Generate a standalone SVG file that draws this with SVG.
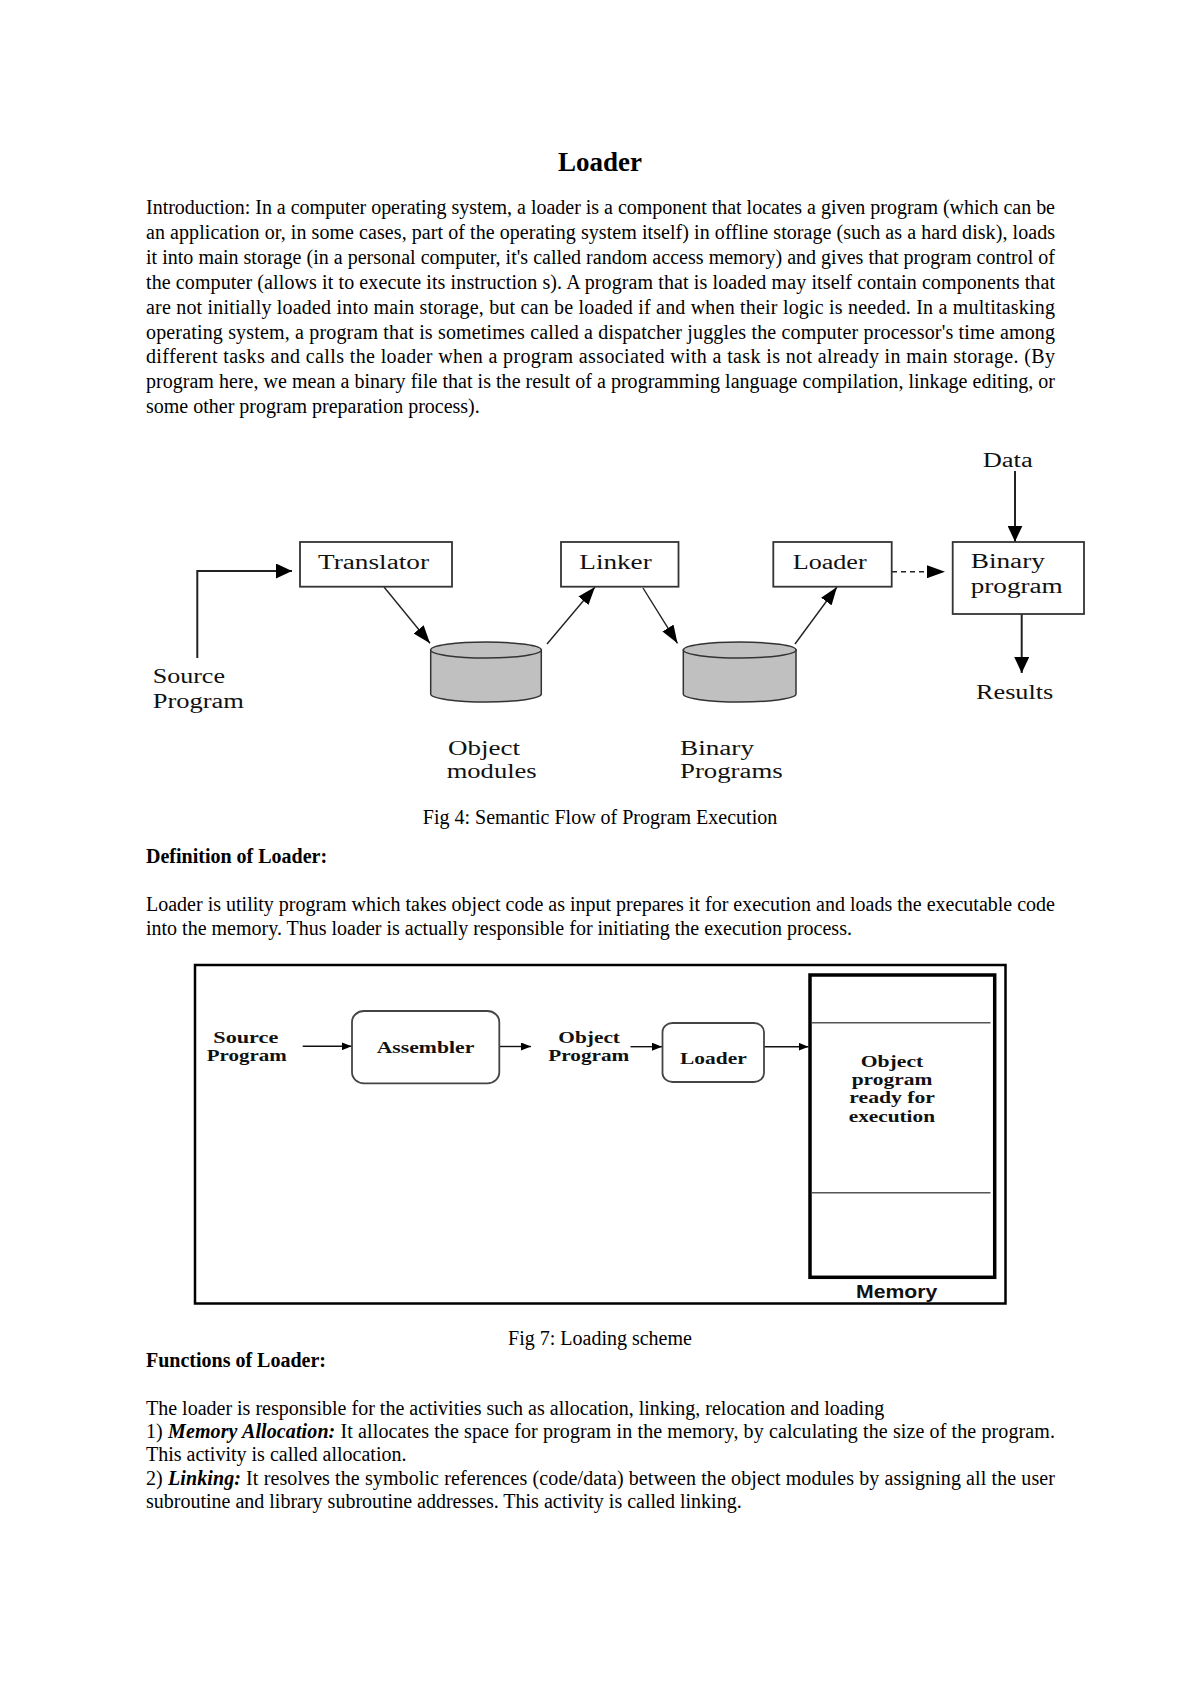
<svg xmlns="http://www.w3.org/2000/svg" width="1200" height="1697" viewBox="0 0 1200 1697">
<style>
.body{font-family:"Liberation Serif","Times New Roman",serif;font-size:20px;fill:#000}
.bold{font-weight:bold}
.title{font-family:"Liberation Serif","Times New Roman",serif;font-size:27px;font-weight:bold;fill:#000}
.f4{font-family:"Liberation Serif","Times New Roman",serif;font-size:20px;fill:#111}
.f7{font-family:"Liberation Serif","Times New Roman",serif;font-size:17.5px;font-weight:bold;fill:#111}
.mem{font-family:"Liberation Sans",Arial,sans-serif;font-size:18px;font-weight:bold;fill:#111}
.box4{fill:#fff;stroke:#333;stroke-width:1.8}
.cyl{fill:#c0c0c0;stroke:#333;stroke-width:1.5}
.c4{fill:none;stroke:#222;stroke-width:1.4}
.c4b{fill:none;stroke:#222;stroke-width:2}
.c7{fill:none;stroke:#111;stroke-width:1.4}
.box7{fill:#fff;stroke:#444;stroke-width:1.8}
</style>
<defs>
<marker id="ah4" markerUnits="userSpaceOnUse" markerWidth="18" markerHeight="13" refX="18" refY="6.5" orient="auto"><path d="M0,0 L18,6.5 L0,13 Z" fill="#000"/></marker>
<marker id="ah4b" markerUnits="userSpaceOnUse" markerWidth="16" markerHeight="15" refX="16" refY="7.5" orient="auto"><path d="M0,0 L16,7.5 L0,15 Z" fill="#000"/></marker>
<marker id="ah7" markerUnits="userSpaceOnUse" markerWidth="10" markerHeight="8" refX="10" refY="4" orient="auto"><path d="M0,0 L10,4 L0,8 Z" fill="#000"/></marker>
</defs>
<rect width="1200" height="1697" fill="#fff"/>

<text class="title" x="600" y="171" text-anchor="middle">Loader</text>

<g id="intro" class="body">
<text x="146" y="214" textLength="909" lengthAdjust="spacing">Introduction: In a computer operating system, a loader is a component that locates a given program (which can be</text>
<text x="146" y="239" textLength="909" lengthAdjust="spacing">an application or, in some cases, part of the operating system itself) in offline storage (such as a hard disk), loads</text>
<text x="146" y="264" textLength="909" lengthAdjust="spacing">it into main storage (in a personal computer, it's called random access memory) and gives that program control of</text>
<text x="146" y="288.7" textLength="909" lengthAdjust="spacing">the computer (allows it to execute its instruction s). A program that is loaded may itself contain components that</text>
<text x="146" y="313.6" textLength="909" lengthAdjust="spacing">are not initially loaded into main storage, but can be loaded if and when their logic is needed. In a multitasking</text>
<text x="146" y="338.5" textLength="909" lengthAdjust="spacing">operating system, a program that is sometimes called a dispatcher juggles the computer processor's time among</text>
<text x="146" y="363.4" textLength="909" lengthAdjust="spacing">different tasks and calls the loader when a program associated with a task is not already in main storage. (By</text>
<text x="146" y="388.3" textLength="909" lengthAdjust="spacing">program here, we mean a binary file that is the result of a programming language compilation, linkage editing, or</text>
<text x="146" y="413.2">some other program preparation process).</text>
</g>

<!-- Fig 4 -->
<g id="fig4-connectors">
<polyline class="c4b" points="197.3,658 197.3,571 292,571" marker-end="url(#ah4b)"/>
<line class="c4" x1="384" y1="587" x2="430" y2="643.3" marker-end="url(#ah4)"/>
<line class="c4" x1="547" y1="644" x2="595" y2="587" marker-end="url(#ah4)"/>
<line class="c4" x1="643" y1="588" x2="677.5" y2="643.3" marker-end="url(#ah4)"/>
<line class="c4" x1="795" y1="644" x2="837" y2="587" marker-end="url(#ah4)"/>
<line class="c4" x1="892" y1="571.7" x2="945" y2="571.7" stroke-dasharray="5,4" marker-end="url(#ah4)"/>
<line class="c4b" x1="1015" y1="471" x2="1015" y2="541.7" marker-end="url(#ah4b)"/>
<line class="c4b" x1="1021.7" y1="614" x2="1021.7" y2="673" marker-end="url(#ah4b)"/>
</g>
<g id="translator"><rect class="box4" x="300" y="542" width="152" height="44.7"/><text class="f4" x="318" y="569" textLength="111" lengthAdjust="spacingAndGlyphs">Translator</text></g>
<g id="linker"><rect class="box4" x="561" y="542" width="117.5" height="44.7"/><text class="f4" x="579.3" y="569" textLength="72.4" lengthAdjust="spacingAndGlyphs">Linker</text></g>
<g id="loader4"><rect class="box4" x="773.3" y="542" width="118.4" height="44.7"/><text class="f4" x="792.7" y="569" textLength="74" lengthAdjust="spacingAndGlyphs">Loader</text></g>
<g id="binary-program"><rect class="box4" x="952.7" y="542" width="131.3" height="72"/><text class="f4" x="970.7" y="568.3" textLength="74.3" lengthAdjust="spacingAndGlyphs">Binary</text><text class="f4" x="970.7" y="593.3" textLength="92" lengthAdjust="spacingAndGlyphs">program</text></g>
<g id="object-modules">
<path class="cyl" d="M430.7,650 L430.7,694 A55.3,8 0 0 0 541.3,694 L541.3,650 Z"/>
<ellipse class="cyl" cx="486" cy="650" rx="55.3" ry="8"/>
<text class="f4" x="448" y="755" textLength="72" lengthAdjust="spacingAndGlyphs">Object</text>
<text class="f4" x="446.7" y="777.5" textLength="90" lengthAdjust="spacingAndGlyphs">modules</text>
</g>
<g id="binary-programs">
<path class="cyl" d="M683.3,650 L683.3,694 A56.3,8 0 0 0 796,694 L796,650 Z"/>
<ellipse class="cyl" cx="739.7" cy="650" rx="56.3" ry="8"/>
<text class="f4" x="680" y="755" textLength="74" lengthAdjust="spacingAndGlyphs">Binary</text>
<text class="f4" x="680" y="778" textLength="102.7" lengthAdjust="spacingAndGlyphs">Programs</text>
</g>
<g id="source4"><text class="f4" x="152.7" y="682.7" textLength="72.3" lengthAdjust="spacingAndGlyphs">Source</text><text class="f4" x="152.7" y="707.5" textLength="91.3" lengthAdjust="spacingAndGlyphs">Program</text></g>
<g id="data"><text class="f4" x="982.7" y="466.5" textLength="50" lengthAdjust="spacingAndGlyphs">Data</text></g>
<g id="results"><text class="f4" x="976" y="699" textLength="77.3" lengthAdjust="spacingAndGlyphs">Results</text></g>

<text class="body" x="600" y="823.5" text-anchor="middle">Fig 4: Semantic Flow of Program Execution</text>

<text class="body bold" x="146" y="863.3">Definition of Loader:</text>
<text class="body" x="146" y="911" textLength="909" lengthAdjust="spacing">Loader is utility program which takes object code as input prepares it for execution and loads the executable code</text>
<text class="body" x="146" y="935">into the memory. Thus loader is actually responsible for initiating the execution process.</text>

<!-- Fig 7 -->
<rect x="195" y="965" width="810.5" height="338.5" fill="none" stroke="#000" stroke-width="2.5"/>
<g id="fig7-connectors">
<line class="c7" x1="302.7" y1="1046.3" x2="351.7" y2="1046.3" marker-end="url(#ah7)"/>
<line class="c7" x1="499.3" y1="1046.5" x2="531" y2="1046.5" marker-end="url(#ah7)"/>
<line class="c7" x1="630.5" y1="1046.7" x2="662" y2="1046.7" marker-end="url(#ah7)"/>
<line class="c7" x1="764" y1="1046.7" x2="808.5" y2="1046.7" marker-end="url(#ah7)"/>
</g>
<g id="source7"><text class="f7" x="213.3" y="1042.7" textLength="65" lengthAdjust="spacingAndGlyphs">Source</text><text class="f7" x="206.7" y="1061" textLength="80" lengthAdjust="spacingAndGlyphs">Program</text></g>
<g id="assembler"><rect class="box7" x="352" y="1011" width="147.3" height="72.3" rx="12" ry="11"/><text class="f7" x="376.7" y="1053.3" textLength="97.6" lengthAdjust="spacingAndGlyphs">Assembler</text></g>
<g id="object-program"><text class="f7" x="558.3" y="1042.7" textLength="61.7" lengthAdjust="spacingAndGlyphs">Object</text><text class="f7" x="548.3" y="1061" textLength="81" lengthAdjust="spacingAndGlyphs">Program</text></g>
<g id="loader7"><rect class="box7" x="662.5" y="1023" width="101.5" height="59" rx="10" ry="9"/><text class="f7" x="680" y="1064" textLength="66.7" lengthAdjust="spacingAndGlyphs">Loader</text></g>
<g id="memory">
<rect x="810" y="975" width="184.7" height="302.3" fill="none" stroke="#000" stroke-width="3.5"/>
<line x1="811.7" y1="1022.7" x2="990.5" y2="1022.7" stroke="#555" stroke-width="1.5"/>
<line x1="811.7" y1="1192.7" x2="990.5" y2="1192.7" stroke="#555" stroke-width="1.5"/>
<text class="f7" x="860.7" y="1067.3" textLength="62.6" lengthAdjust="spacingAndGlyphs">Object</text>
<text class="f7" x="851.7" y="1085" textLength="80.6" lengthAdjust="spacingAndGlyphs">program</text>
<text class="f7" x="849.3" y="1103.4" textLength="85.7" lengthAdjust="spacingAndGlyphs">ready for</text>
<text class="f7" x="848.7" y="1121.7" textLength="86.3" lengthAdjust="spacingAndGlyphs">execution</text>
<text class="mem" x="856" y="1298.3" textLength="81.3" lengthAdjust="spacingAndGlyphs">Memory</text>
</g>

<text class="body" x="600" y="1345" text-anchor="middle">Fig 7: Loading scheme</text>
<text class="body bold" x="146" y="1367">Functions of Loader:</text>
<text class="body" x="146" y="1414.5">The loader is responsible for the activities such as allocation, linking, relocation and loading</text>
<text class="body" x="146" y="1438" textLength="909" lengthAdjust="spacing">1) <tspan font-weight="bold" font-style="italic">Memory Allocation:</tspan> It allocates the space for program in the memory, by calculating the size of the program.</text>
<text class="body" x="146" y="1461">This activity is called allocation.</text>
<text class="body" x="146" y="1484.5" textLength="909" lengthAdjust="spacing">2) <tspan font-weight="bold" font-style="italic">Linking:</tspan> It resolves the symbolic references (code/data) between the object modules by assigning all the user</text>
<text class="body" x="146" y="1507.5">subroutine and library subroutine addresses. This activity is called linking.</text>
</svg>
